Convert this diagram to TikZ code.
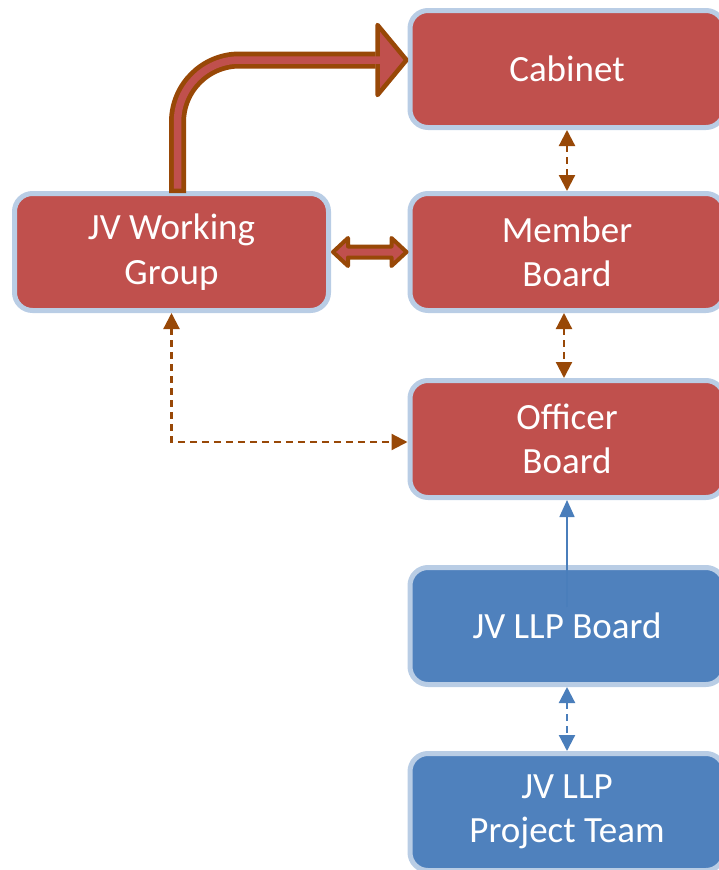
\documentclass[tikz,border=0pt]{standalone}
\usepackage{fontspec}
\setmainfont{Carlito}
\usetikzlibrary{arrows.meta,calc}
\definecolor{boxred}{HTML}{C0504D}
\definecolor{boxblue}{HTML}{4F81BD}
\definecolor{rim}{HTML}{B9CDE5}
\definecolor{brn}{HTML}{984807}
\definecolor{lnblue}{HTML}{4A7EBB}
\begin{document}
\begin{tikzpicture}[x=1pt,y=-1pt,
  orgbox/.style={draw=rim,line width=5pt,rounded corners=18pt,minimum width=314pt,minimum height=117pt,inner sep=0pt,text=white,align=center,font=\fontsize{37}{44.5}\selectfont},
  redbox/.style={orgbox,fill=boxred},
  bluebox/.style={orgbox,fill=boxblue},
  tipb/.tip={Triangle[length=16pt,width=16pt]},
  dashbrn/.style={draw=brn,line width=2.2pt,dash pattern=on 7pt off 5pt,tipb-tipb},
  dashblu/.style={draw=lnblue,line width=2.2pt,dash pattern=on 7pt off 5pt,tipb-tipb},
  blockarr/.style={draw=brn,fill=boxred,line join=round}]
\useasboundingbox (0,0) rectangle (719,870);
\clip (0,0) rectangle (719,870);

\node[redbox] (cab) at (567,69) {Cabinet};
\node[redbox] (wg) at (171.5,252) {JV Working\\Group};
\node[redbox] (mb) at (567,252) {Member\\Board};
\node[redbox] (ob) at (567,439) {Officer\\Board};
\node[bluebox] (llp) at (567,626) {JV LLP Board};
\node[bluebox] (team) at (567,812) {JV LLP\\Project Team};

% bent block arrow
\coordinate (bs) at ([xshift=6pt]wg.north);
\coordinate (bt) at ([yshift=9pt]cab.west);
\draw[brn,line width=17pt,rounded corners=62pt] ($(bs)+(0,2)$) |- ($(bt)+(-32,0)$);
\draw[blockarr,line width=4.5pt] ($(bt)+(-30,-35)$) -- ($(bt)+(-1,0)$) -- ($(bt)+(-30,35)$) -- cycle;
\draw[boxred,line width=7.5pt,rounded corners=62pt] ($(bs)+(0,-2.5)$) |- ($(bt)+(-24,0)$);

% double block arrow
\coordinate (L) at (wg.east);
\coordinate (R) at (mb.west);
\draw[blockarr,line width=4pt] ($(L)+(2,0)$) -- ($(L)+(17,-14)$) -- ($(L)+(17,-5.5)$) -- ($(R)+(-16,-5.5)$) -- ($(R)+(-16,-14)$) -- ($(R)+(-1,0)$) -- ($(R)+(-16,14)$) -- ($(R)+(-16,5.5)$) -- ($(L)+(17,5.5)$) -- ($(L)+(17,14)$) -- cycle;

% dashed connectors
\draw[dashbrn] (cab.south) -- (mb.north);
\draw[dashbrn] ([xshift=-3pt]mb.south) -- ([xshift=-3pt]ob.north);
\draw[dashbrn] (wg.south) |- ([yshift=-3pt]ob.west);
\draw[dashblu] (llp.south) -- (team.north);

% solid blue arrow
\draw[lnblue,line width=1.5pt,-{Triangle[length=17pt,width=15pt]}] ([yshift=19pt]llp.center) -- (ob.south);
\end{tikzpicture}
\end{document}
